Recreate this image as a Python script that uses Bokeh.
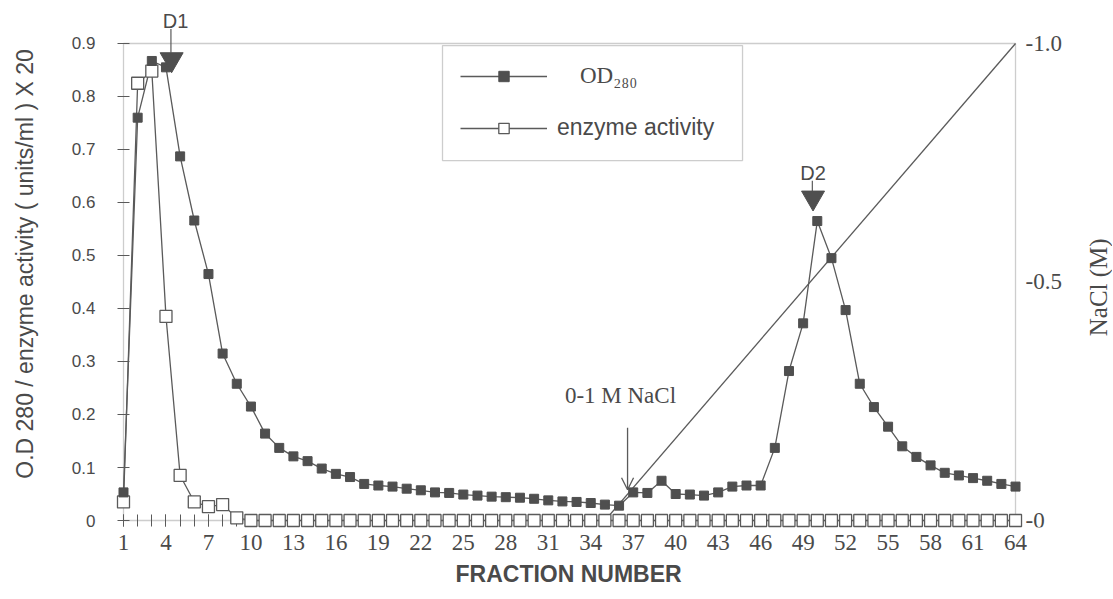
import math
from bokeh.plotting import figure
from bokeh.models import (Range1d, LinearAxis, FixedTicker, Label, Arrow, OpenHead,
                          BoxAnnotation, Legend, LegendItem, Title)
from bokeh.embed import file_html
from bokeh.resources import INLINE

# ---------------- data ----------------
fractions = list(range(1, 65))
od280 = [0.053, 0.760, 0.867, 0.855, 0.687, 0.566, 0.465, 0.315, 0.258, 0.215,
         0.164, 0.137, 0.121, 0.112, 0.098, 0.088, 0.082, 0.069, 0.066, 0.064,
         0.060, 0.057, 0.053, 0.052, 0.049, 0.047, 0.045, 0.044, 0.043, 0.041,
         0.038, 0.036, 0.035, 0.033, 0.030, 0.028, 0.053, 0.052, 0.075, 0.050,
         0.049, 0.047, 0.053, 0.064, 0.066, 0.066, 0.137, 0.282, 0.372, 0.565,
         0.495, 0.397, 0.258, 0.214, 0.177, 0.140, 0.120, 0.104, 0.090, 0.085,
         0.080, 0.075, 0.069, 0.064]
enzyme = [0.035, 0.825, 0.848, 0.385, 0.085, 0.035, 0.026, 0.030, 0.005] + [0.0] * 55
nacl_fraction = [35, 64]
nacl_molar = [0.0, 1.0]

x_ticks = list(range(1, 65, 3))
y_ticks = [0.0, 0.1, 0.2, 0.3, 0.4, 0.5, 0.6, 0.7, 0.8, 0.9]
y_tick_labels = ["0", "0.1", "0.2", "0.3", "0.4", "0.5", "0.6", "0.7", "0.8", "0.9"]
nacl_ticks = [0.0, 0.5, 1.0]
nacl_tick_labels = ["-0", "-0.5", "-1.0"]

peak_names = ["D1", "D2"]
peak_fraction = [4.4, 49.7]
peak_level = [0.870, 0.609]
peak_label_level = [0.9415, 0.655]

# ---------------- styles ----------------
LINE = "#5a5a5a"
DARK = "#4f4f4f"
TEXT = "#4a4a4a"
SANS = "Liberation Sans"
SERIF = "Liberation Serif"

W, H = 1112, 599
PXU = 14.159                 # pixels per fraction
FRAME_LEFT = 114
XP = 0.6356                  # 9 px of padding left of fraction 1
X_LO = 1 - XP
X_HI = X_LO + (W - FRAME_LEFT) / PXU
Y_LO, Y_HI = -0.0132, 0.9811
FRAME_BOTTOM = 527

p = figure(width=W, height=H, output_backend="svg", toolbar_location=None,
           x_range=Range1d(X_LO, X_HI), y_range=Range1d(Y_LO, Y_HI),
           x_axis_location=None, y_axis_location=None,
           min_border_left=FRAME_LEFT, min_border_right=0,
           min_border_top=0, min_border_bottom=H - FRAME_BOTTOM)
p.outline_line_color = None
p.background_fill_color = "white"
p.border_fill_color = "white"
p.grid.visible = False
p.extra_y_ranges = {"nacl": Range1d(Y_LO / 0.9, Y_HI / 0.9)}

# the plot box (axes lines)
p.add_layout(BoxAnnotation(left=1, right=64, bottom=0, top=0.9, fill_alpha=0,
                           line_color=LINE, line_width=1.3, level="underlay"))

# bottom axis
xaxis = LinearAxis(ticker=FixedTicker(ticks=x_ticks, minor_ticks=fractions))
xaxis.major_tick_in = 13
xaxis.major_tick_out = -1
xaxis.minor_tick_in = 13
xaxis.minor_tick_out = -1
xaxis.major_tick_line_color = LINE
xaxis.minor_tick_line_color = LINE
xaxis.axis_line_color = None
xaxis.major_label_text_font = SERIF
xaxis.major_label_text_font_size = "23px"
xaxis.major_label_text_color = TEXT
xaxis.major_label_standoff = 8
p.add_layout(xaxis, "below")
p.add_layout(Title(text="FRACTION  NUMBER", align="left", offset=341, standoff=13,
                   vertical_align="bottom",
                   text_font=SANS, text_font_size="23px", text_font_style="bold",
                   text_color=TEXT), "below")

# left axis
yaxis = LinearAxis(ticker=FixedTicker(ticks=y_ticks, minor_ticks=[]))
yaxis.major_label_overrides = dict(zip(y_ticks, y_tick_labels))
yaxis.major_tick_in = 15
yaxis.major_tick_out = -3
yaxis.minor_tick_in = 0
yaxis.minor_tick_out = -3
yaxis.major_tick_line_color = LINE
yaxis.axis_line_color = None
yaxis.major_label_text_font = SANS
yaxis.major_label_text_font_size = "17px"
yaxis.major_label_text_color = TEXT
yaxis.major_label_standoff = 19
yaxis.axis_label = "O.D 280 / enzyme activity ( units/ml ) X 20"
yaxis.axis_label_text_font = SANS
yaxis.axis_label_text_font_size = "23px"
yaxis.axis_label_text_font_style = "normal"
yaxis.axis_label_text_color = TEXT
yaxis.axis_label_standoff = 31
p.add_layout(yaxis, "left")

# right (NaCl) scale: tick labels and title drawn at the right edge of the box
for v, lab in zip(nacl_ticks, nacl_tick_labels):
    p.add_layout(Label(x=64, y=v, y_range_name="nacl", x_offset=10, text=lab,
                       text_font=SERIF, text_font_size="23px", text_color=TEXT,
                       text_align="left", text_baseline="middle"))
p.add_layout(Label(x=64, y=0.44, x_offset=83, text="NaCl (M)", angle=math.pi / 2,
                   text_font=SERIF, text_font_size="25px", text_color=TEXT,
                   text_align="center", text_baseline="middle"))

# glyphs
nacl_r = p.line(nacl_fraction, nacl_molar, y_range_name="nacl", line_color=LINE, line_width=1.3)
enz_line = p.line(fractions, enzyme, line_color=LINE, line_width=1.3)
od_line = p.line(fractions, od280, line_color=LINE, line_width=1.3)
enz_sq = p.scatter(fractions, enzyme, marker="square", size=12, fill_color="white",
                   line_color=LINE, line_width=1.3)
od_sq = p.scatter(fractions, od280, marker="square", size=9, fill_color=DARK,
                  line_color=DARK)
peaks = p.scatter(peak_fraction, peak_level, marker="inverted_triangle", size=23,
                  fill_color=DARK, line_color=DARK)
for r in (nacl_r, enz_line, od_line, enz_sq, od_sq, peaks):
    r.level = "overlay"

# peak labels with short connectors
TRI_TOP = 0.0125
for name, fx, fy, ly in zip(peak_names, peak_fraction, peak_level, peak_label_level):
    p.add_layout(Arrow(end=None, x_start=fx - 0.05, y_start=fy + TRI_TOP,
                       x_end=fx - 0.05, y_end=ly - 0.014,
                       line_color=LINE, line_width=1.2))
    p.add_layout(Label(x=fx, y=ly, text=name, x_offset=4 if name == "D1" else 0,
                       text_font=SANS, text_font_size="20px", text_color=TEXT,
                       text_align="center", text_baseline="middle"))

# NaCl gradient annotation
p.add_layout(Label(x=36.1, y=0.236, text="0-1 M NaCl", text_font=SERIF,
                   text_font_size="23px", text_color=TEXT,
                   text_align="center", text_baseline="middle"))
p.add_layout(Arrow(end=OpenHead(size=12, line_color=LINE, line_width=1.3),
                   x_start=36.6, y_start=0.175, x_end=36.6, y_end=0.058,
                   line_color=LINE, line_width=1.3))

# legend box and legends
p.add_layout(BoxAnnotation(left=23.53, right=44.72, bottom=0.679, top=0.896,
                           fill_color="white", fill_alpha=1, line_color=LINE,
                           line_width=1.3, level="underlay"))
LEG_X = 346
leg1 = Legend(items=[LegendItem(label="OD\u2082\u2088\u2080", renderers=[od_line, od_sq])],
              location=(LEG_X, FRAME_BOTTOM - 89), glyph_width=87, glyph_height=26, padding=0,
              label_standoff=33, border_line_color=None, background_fill_alpha=0,
              label_text_font=SERIF, label_text_font_size="23px", label_text_color=TEXT)
leg2 = Legend(items=[LegendItem(label="enzyme activity", renderers=[enz_line, enz_sq])],
              location=(LEG_X, FRAME_BOTTOM - 141), glyph_width=87, glyph_height=26, padding=0,
              label_standoff=10, border_line_color=None, background_fill_alpha=0,
              label_text_font=SANS, label_text_font_size="23px", label_text_color=TEXT)
p.add_layout(leg1)
p.add_layout(leg2)

open("out.html", "w").write(file_html(p, INLINE))
